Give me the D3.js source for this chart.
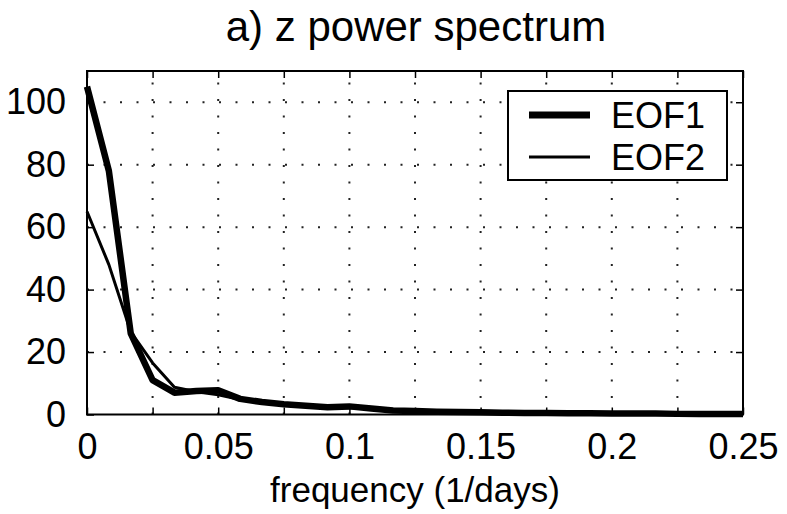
<!DOCTYPE html>
<html>
<head>
<meta charset="utf-8">
<script src="https://cdn.jsdelivr.net/npm/d3@7"></script>
<style>
  html, body { margin: 0; padding: 0; background: #fff; }
  svg { display: block; }
  text { font-family: "Liberation Sans", Arial, Helvetica, sans-serif; fill: #000; }
</style>
</head>
<body>
<svg id="chart" width="787" height="514"></svg>
<script>
// ---- data ----
const titleText = "a) z power spectrum";
const xLabelText = "frequency (1/days)";
const seriesNames = ["EOF1", "EOF2"];
// frequencies: k/120 cycles per day, k = 0..30
const frequencies = d3.range(0, 31).map(k => k / 120);
const eof1 = [105, 78, 26, 11, 7, 7.5, 7.8, 5, 4, 3.3, 2.8, 2.3, 2.6, 1.9, 1.3, 1.1, 0.9, 0.8, 0.7, 0.6, 0.5, 0.5, 0.4, 0.4, 0.3, 0.3, 0.3, 0.2, 0.2, 0.2, 0.2];
const eof2 = [65, 48, 26.5, 16.5, 8.7, 7.3, 6.3, 4.8, 4, 3.2, 2.7, 2.4, 2.2, 1.8, 1.5, 1.2, 1.0, 0.8, 0.7, 0.6, 0.6, 0.5, 0.4, 0.4, 0.4, 0.3, 0.3, 0.3, 0.2, 0.2, 0.2];
const xTicks = [0, 0.025, 0.05, 0.075, 0.1, 0.125, 0.15, 0.175, 0.2, 0.225, 0.25];
const xTickLabels = ["0", "", "0.05", "", "0.1", "", "0.15", "", "0.2", "", "0.25"];
const yTicks = [0, 20, 40, 60, 80, 100];
const yTickLabels = ["0", "20", "40", "60", "80", "100"];

// ---- layout ----
const L = 87, R = 743, T = 71, B = 414.5;
const svg = d3.select("#chart");
const x = d3.scaleLinear().domain([0, 0.25]).range([L, R]);
const y = d3.scaleLinear().domain([0, 110]).range([B, T]);

// grid (dotted)
const grid = svg.append("g");
grid.selectAll("line.vg").data(xTicks.slice(1, -1)).enter().append("line")
  .attr("x1", d => x(d)).attr("x2", d => x(d)).attr("y1", B).attr("y2", T)
  .attr("stroke", "#222").attr("stroke-width", 2).attr("stroke-dasharray", "2,14.5");
grid.selectAll("line.hg").data(yTicks.slice(1)).enter().append("line")
  .attr("x1", L).attr("x2", R).attr("y1", d => y(d)).attr("y2", d => y(d))
  .attr("stroke", "#222").attr("stroke-width", 2).attr("stroke-dasharray", "2,14.5");

// axes
const tickLen = 7;
const fontTick = 36;
const xAxisB = d3.axisBottom(x).tickValues(xTicks).tickSize(-tickLen).tickPadding(19)
  .tickFormat((d, i) => xTickLabels[i]);
const xAxisT = d3.axisTop(x).tickValues(xTicks).tickSize(-tickLen).tickFormat("");
const yAxisL = d3.axisLeft(y).tickValues(yTicks).tickSize(-tickLen).tickPadding(tickLen + 14)
  .tickFormat((d, i) => yTickLabels[i]);
const yAxisR = d3.axisRight(y).tickValues(yTicks).tickSize(-tickLen).tickFormat("");

function style(g) {
  g.select(".domain").remove();
  g.selectAll(".tick line").attr("stroke", "#000").attr("stroke-width", 1.5);
  g.selectAll("text").style("font-size", fontTick + "px")
    .style("font-family", '"Liberation Sans", Arial, Helvetica, sans-serif').attr("fill", "#000");
}
svg.append("g").attr("transform", `translate(0,${B})`).call(xAxisB).call(style);
svg.append("g").attr("transform", `translate(0,${T})`).call(xAxisT).call(style);
svg.append("g").attr("transform", `translate(${L},0)`).call(yAxisL).call(style);
svg.append("g").attr("transform", `translate(${R},0)`).call(yAxisR).call(style);

// curves
const line = d3.line().x((d, i) => x(frequencies[i])).y(d => y(d));
svg.append("path").datum(eof2).attr("d", line).attr("fill", "none")
  .attr("stroke", "#000").attr("stroke-width", 3).attr("stroke-linejoin", "round");
svg.append("path").datum(eof1).attr("d", line).attr("fill", "none")
  .attr("stroke", "#000").attr("stroke-width", 6.5).attr("stroke-linejoin", "round");

// frame
svg.append("rect").attr("x", L).attr("y", T).attr("width", R - L).attr("height", B - T)
  .attr("fill", "none").attr("stroke", "#000").attr("stroke-width", 2);

// legend
const lg = svg.append("g");
lg.append("rect").attr("x", 508).attr("y", 91).attr("width", 219).attr("height", 89)
  .attr("fill", "#fff").attr("stroke", "#000").attr("stroke-width", 2);
const widths = [7, 3];
const rows = [115, 157];
seriesNames.forEach((name, i) => {
  lg.append("line").attr("x1", 529).attr("x2", 590).attr("y1", rows[i]).attr("y2", rows[i])
    .attr("stroke", "#000").attr("stroke-width", widths[i]);
  lg.append("text").attr("x", 611).attr("y", rows[i] + 12.5).style("font-size", "36px").text(name);
});

// title and x label
svg.append("text").attr("x", 416).attr("y", 41).attr("text-anchor", "middle")
  .style("font-size", "42px").text(titleText);
svg.append("text").attr("x", 415).attr("y", 502).attr("text-anchor", "middle")
  .style("font-size", "35px").text(xLabelText);
</script>
</body>
</html>
